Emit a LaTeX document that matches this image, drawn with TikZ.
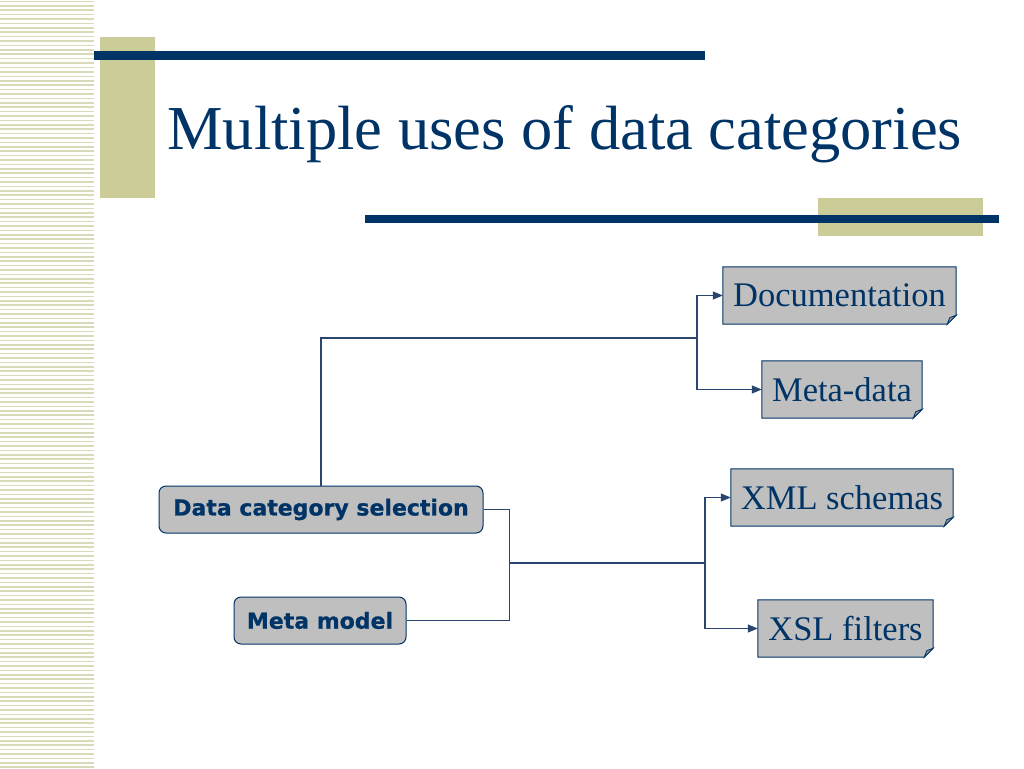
\documentclass[tikz,border=0pt]{standalone}
\usepackage{fontspec}
\setmainfont{Liberation Serif}
\newfontfamily\boxsans{DejaVu Sans Bold}[FakeBold=0.8]
\usetikzlibrary{arrows.meta,calc}
\definecolor{navy}{RGB}{0,51,102}
\definecolor{beige}{RGB}{204,204,153}
\definecolor{stripec}{RGB}{218,218,184}
\definecolor{boxgray}{RGB}{191,191,191}
\definecolor{foldgray}{RGB}{150,150,150}
\definecolor{connc}{RGB}{40,70,110}
\tikzset{
  stripe/.style={stripec, line width=1.6pt},
  bar/.style={fill=navy, draw=none},
  deco/.style={fill=beige, draw=none},
  titletext/.style={anchor=base west, inner sep=0pt, text=navy, font=\fontsize{62.5}{70}\selectfont},
  notebox/.style={inner sep=0pt, text=navy, font=\fontsize{34.5}{40}\selectfont},
  selbox/.style={rounded corners=7pt, fill=boxgray, draw=navy, line width=1pt, inner sep=0pt, text=navy, font=\boxsans\fontsize{22}{25}\selectfont},
  conn/.style={draw=connc, line width=1.1pt},
  arr/.style={conn, -{Triangle[length=10pt,width=8pt]}},
}
\newcommand{\foldbox}[1]{%
  \path let \p1=(#1.north west), \p2=(#1.south east) in
    [fill=boxgray, draw=navy, line width=1pt]
    (\x1,\y1) -- (\x2,\y1) -- (\x2,\y2+9pt) -- (\x2-9pt,\y2) -- (\x1,\y2) -- cycle;
  \path let \p2=(#1.south east) in
    [fill=foldgray, draw=navy, line width=0.8pt]
    (\x2,\y2+9pt) -- (\x2-9pt,\y2) -- (\x2-6.5pt,\y2+6.5pt) -- cycle;
}
\begin{document}
\begin{tikzpicture}[x=1pt,y=-1pt]
\useasboundingbox (0,0) rectangle (1024,768);
\fill[white] (0,0) rectangle (1024,768);
% left stripes
\foreach \i in {0,...,174} \draw[stripe] (0,{\i*4.4+1.5}) -- (94,{\i*4.4+1.5});
% decorations
\fill[deco] (100,37) rectangle (155,198);
\fill[bar] (94,51) rectangle (705,59.5);
\fill[deco] (818,198) rectangle (983,236);
\fill[bar] (365,215) rectangle (999,223);
% title
\node[titletext] (title) at (167,149) {Multiple uses of data categories};
% right boxes (text nodes, shapes drawn below)
\node[notebox, minimum width=233pt, minimum height=57pt] (doc) at (839.5,295.5) {};
\node[notebox, minimum width=160pt, minimum height=57pt] (meta) at (842,389.5) {};
\node[notebox, minimum width=222pt, minimum height=57pt] (xml) at (842,497.5) {};
\node[notebox, minimum width=175pt, minimum height=57pt] (xsl) at (845.5,628.5) {};
\foldbox{doc}\foldbox{meta}\foldbox{xml}\foldbox{xsl}
\node[notebox] at (doc) {Documentation};
\node[notebox] at (meta) {Meta-data};
\node[notebox] at (xml) {XML schemas};
\node[notebox] at (xsl) {XSL filters};
% left boxes
\node[selbox, minimum width=324pt, minimum height=47pt] (dcs) at (321,509.5) {Data category selection};
\node[selbox, minimum width=172pt, minimum height=47pt] (mm) at (320,620.5) {Meta model};
% connectors
\coordinate (j1) at (697,338);
\coordinate (j2) at (509.5,563);
\coordinate (j3) at (705,563);
\draw[conn] (dcs.north) |- (j1);
\draw[arr] (j1) |- (doc.west);
\draw[arr] (j1) |- (meta.west);
\draw[conn] (dcs.east) -| (j2);
\draw[conn] (mm.east) -| (j2);
\draw[conn] (j2) -- (j3);
\draw[arr] (j3) |- (xml.west);
\draw[arr] (j3) |- (xsl.west);
\end{tikzpicture}
\end{document}
